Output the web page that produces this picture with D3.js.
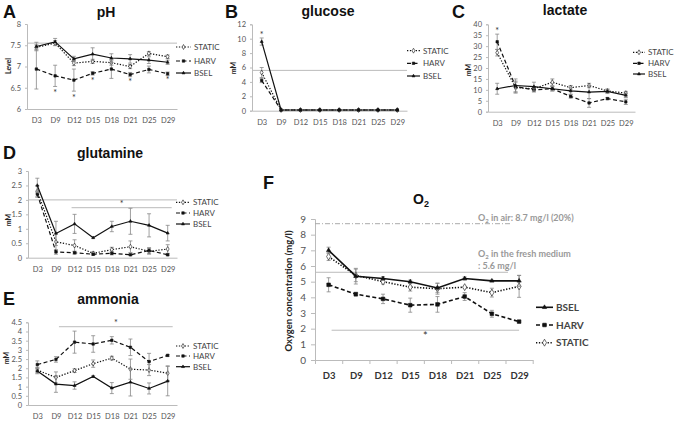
<!DOCTYPE html>
<html><head><meta charset="utf-8">
<script src="https://cdn.jsdelivr.net/npm/d3@7"></script>
<style>body{margin:0;background:#fff}</style>
</head><body>
<svg id="c" width="676" height="422"></svg>
<script>
const days = ["D3","D9","D12","D15","D18","D21","D25","D29"];
const seriesNames = ["STATIC","HARV","BSEL"];

// A: pH
const phStatic = [7.45,7.55,7.08,7.12,7.09,7.0,7.31,7.23];
const phStaticErr = [0.06,0.06,0.06,0.05,0.06,0.05,0.04,0.04];
const phHarv = [6.94,6.78,6.68,6.84,6.94,6.81,6.93,6.83];
const phHarvErr = [0.47,0.25,0.26,0.04,0.22,0.05,0.08,0.04];
const phBsel = [7.47,7.58,7.18,7.29,7.2,7.18,7.15,7.1];
const phBselErr = [0.1,0.08,0.06,0.15,0.1,0.1,0.08,0.05];
const phTicks = [6,6.5,7,7.5,8];
const phRef = 7.55;
const phStars = [["D9",6.41],["D12",6.28],["D15",6.69],["D21",6.67],["D29",6.71]];

// B: glucose
const glcStatic = [5.3,0.1,0.1,0.1,0.1,0.1,0.1,0.1];
const glcStaticErr = [0.7,0.05,0,0,0,0,0,0];
const glcHarv = [4.2,0.1,0.1,0.1,0.1,0.1,0.1,0.1];
const glcHarvErr = [0.3,0.05,0,0,0,0,0,0];
const glcBsel = [9.6,0.1,0.1,0.1,0.1,0.1,0.1,0.1];
const glcBselErr = [0.5,0.05,0,0,0,0,0,0];
const glcTicks = [0,2,4,6,8,10,12];
const glcRef = 5.6;
const glcStars = [["D3",10.7]];

// C: lactate
const lacStatic = [27,11,10.5,13.5,11,12,9.5,8.5];
const lacStaticErr = [1.5,2.5,1,1.5,1,1,0.8,0.8];
const lacHarv = [32,11.5,10,10.5,7,4,6,4.5];
const lacHarvErr = [3.5,2.5,1,1,0.8,2,0.5,1.2];
const lacBsel = [10.5,12,11.5,10.5,9.5,9,9.3,7.5];
const lacBselErr = [2.5,3,2,1,1.5,3,1,1];
const lacTicks = [0,5,10,15,20,25,30,35,40];
const lacStars = [["D3",37.3]];

// D: glutamine
const glnStatic = [2.3,0.55,0.42,0.15,0.28,0.38,0.22,0.3];
const glnStaticErr = [0.2,0.3,0.2,0.05,0.08,0.2,0.1,0.15];
const glnHarv = [2.2,0.2,0.17,0.12,0.15,0.1,0.25,0.1];
const glnHarvErr = [0.1,0.08,0.05,0.04,0.05,0.03,0.1,0.03];
const glnBsel = [2.5,0.84,1.17,0.69,1.08,1.26,1.12,0.85];
const glnBselErr = [0.25,0.42,0.33,0.02,0.18,0.45,0.4,0.27];
const glnTicks = [0,0.5,1,1.5,2,2.5,3];
const glnRef = 2.0;
const glnSig = ["D12","D29",1.73];

// E: ammonia
const nhStatic = [1.9,1.5,1.87,2.25,2.55,1.95,1.9,1.73];
const nhStaticErr = [0.15,0.3,0.1,0.2,0.1,0.55,0.3,0.4];
const nhHarv = [2.2,2.48,3.42,3.32,3.52,3.14,2.36,2.7];
const nhHarvErr = [0.2,0.15,0.6,0.45,0.2,0.45,0.45,0.05];
const nhBsel = [1.85,1.14,1.06,1.55,0.92,1.24,0.9,1.3];
const nhBselErr = [0.15,0.45,0.2,0.05,0.3,0.75,0.3,0.8];
const nhTicks = [0,0.5,1,1.5,2,2.5,3,3.5,4,4.5];
const nhSig = ["D9","D29",4.26];

// F: O2
const o2Bsel = [7.0,5.35,5.2,5.0,4.6,5.2,5.05,5.05];
const o2BselErr = [0.2,0.5,0.12,0.1,0.3,0.1,0.05,0.35];
const o2Harv = [4.8,4.2,3.9,3.5,3.55,4.05,2.95,2.45];
const o2HarvErr = [0.45,0.12,0.3,0.45,0.5,0.25,0.22,0.05];
const o2Static = [6.6,5.4,5.0,4.65,4.55,4.65,4.3,4.7];
const o2StaticErr = [0.25,0.4,0.15,0.25,0.35,0.05,0.28,0.7];
const o2Ticks = [0,1,2,3,4,5,6,7,8,9];
const o2Air = 8.7;
const o2Medium = 5.6;
const o2Sig = ["D3","D29",1.9];

const svg = d3.select("#c");
const TXT = "'Lato','Open Sans',sans-serif";
const HEAD = "'Liberation Sans',Arial,sans-serif";

const styles = {
  STATIC:{dash:"1.3,1.6", sym:d3.symbolDiamond, size:7, bsize:14, fill:"#fff"},
  HARV:{dash:"4,2.5", sym:d3.symbolSquare, size:6, bsize:13, fill:"#111"},
  BSEL:{dash:null, sym:d3.symbolTriangle, size:4, bsize:8, fill:"#111"}
};

function panel(o){
  const g = svg.append("g");
  const x = d3.scalePoint().domain(days).range([o.x0,o.x1]).padding(0.5);
  const y = d3.scaleLinear().domain([o.ticks[0], o.ticks[o.ticks.length-1]]).range([o.y0,o.y1]);
  const ya = g.append("g").attr("transform",`translate(${o.x0},0)`)
    .call(d3.axisLeft(y).tickValues(o.ticks).tickSize(o.big?4:2).tickPadding(o.big?5:4).tickFormat(d=>String(d)));
  ya.select(".domain").attr("stroke","#bbb");
  ya.selectAll(".tick line").attr("stroke","#bbb");
  ya.selectAll("text").attr("fill","#555").style("fill","#555").style("font-family",TXT).style("font-size",o.big?"10px":"7.5px");
  const xa = g.append("g").attr("transform",`translate(0,${o.y0})`)
    .call(d3.axisBottom(x).tickSize(0).tickPadding(o.big?12:9));
  xa.select(".domain").attr("stroke","#bbb");
  xa.selectAll("text").attr("fill",o.big?"#333":"#555").style("fill",o.big?"#333":"#555").style("font-family",TXT)
    .style("font-size",o.big?"9.5px":"7.5px").style("font-weight",o.big?"bold":"normal");
  if(o.big){
    const xl = d3.scaleLinear().domain([0,days.length]).range([o.x0,o.x1]);
    const xb = g.append("g").attr("transform",`translate(0,${o.y0})`)
      .call(d3.axisBottom(xl).tickValues(d3.range(days.length+1)).tickSize(4).tickFormat(""));
    xb.select(".domain").remove();
    xb.selectAll(".tick line").attr("stroke","#bbb");
  }
  (o.refs||[]).forEach(r=>{
    g.append("line").attr("x1",o.x0).attr("x2",r.x2||o.x1).attr("y1",y(r.v)).attr("y2",y(r.v))
      .attr("stroke",r.color||"#bbb").attr("stroke-width",1).attr("stroke-dasharray",r.dash||null);
  });
  if(o.sig){
    const [a,b,v] = o.sig;
    const xA = x(a)+o.sigOff[0], xB = x(b)+o.sigOff[1];
    g.append("line").attr("x1",xA).attr("x2",xB).attr("y1",y(v)).attr("y2",y(v)).attr("stroke","#bbb").attr("stroke-width",1);
    g.append("text").attr("x",(xA+xB)/2).attr("y",y(v)+o.sigDy).attr("text-anchor","middle")
      .style("font-family",TXT).style("font-size",o.big?"11px":"9px").attr("fill","#333").text("*");
  }
  o.series.forEach(s=>{
    const st = styles[s.name];
    const pts = days.map((d,i)=>({d,v:s.v[i],e:s.e[i]}));
    const eg = g.append("g");
    pts.filter(p=>p.e>0.02).forEach(p=>{
      const cx = x(p.d), t = y(p.v+p.e), b = y(p.v-p.e);
      eg.append("line").attr("x1",cx).attr("x2",cx).attr("y1",t).attr("y2",b).attr("stroke","#888").attr("stroke-width",0.8);
      [t,b].forEach(yy=>eg.append("line").attr("x1",cx-2).attr("x2",cx+2).attr("y1",yy).attr("y2",yy).attr("stroke","#888").attr("stroke-width",0.8));
    });
    g.append("path").datum(pts)
      .attr("d",d3.line().x(p=>x(p.d)).y(p=>y(p.v)))
      .attr("fill","none").attr("stroke","#111").attr("stroke-width",o.big?1.6:1.2)
      .attr("stroke-dasharray",st.dash);
    g.selectAll(null).data(pts).join("path")
      .attr("transform",p=>`translate(${x(p.d)},${y(p.v)})`)
      .attr("d",d3.symbol().type(st.sym).size(o.big?st.bsize:st.size))
      .attr("fill",st.fill).attr("stroke","#111").attr("stroke-width",0.6);
  });
  (o.stars||[]).forEach(([d,v])=>{
    g.append("text").attr("x",x(d)).attr("y",y(v)+4).attr("text-anchor","middle")
      .style("font-family",TXT).style("font-size","9px").attr("fill","#333").text("*");
  });
  if(o.title){
    g.append("text").attr("x",o.tx).attr("y",o.ty).attr("text-anchor","middle")
      .style("font-family",HEAD).style("font-weight","bold").style("font-size","14px").attr("fill","#111").text(o.title);
  }
  g.append("text").attr("x",o.lx).attr("y",o.ly).style("font-family",HEAD).style("font-weight","bold")
    .style("font-size","18px").attr("fill","#111").text(o.letter);
  g.append("text").attr("transform",`translate(${o.ylx},${o.yly}) rotate(-90)`).attr("text-anchor","middle")
    .style("font-family",TXT).style("font-weight","bold").style("font-size",o.big?"9.5px":"7px").attr("fill","#222").text(o.ylabel);
  o.legend.forEach((name,i)=>{
    const st = styles[name];
    const yy = o.legY[i];
    g.append("line").attr("x1",o.legX).attr("x2",o.legX+o.legW).attr("y1",yy).attr("y2",yy)
      .attr("stroke","#111").attr("stroke-width",o.big?1.6:1.2).attr("stroke-dasharray",st.dash);
    g.append("path").attr("transform",`translate(${o.legX+o.legW/2},${yy})`)
      .attr("d",d3.symbol().type(st.sym).size(o.big?st.bsize:st.size)).attr("fill",st.fill).attr("stroke","#111").attr("stroke-width",0.6);
    g.append("text").attr("x",o.legX+o.legW+3).attr("y",yy).attr("dy","0.35em")
      .style("font-family",TXT).style("font-size",o.big?"10px":"8px").style("font-weight",o.big?"bold":"normal")
      .attr("fill","#444").text(name);
  });
  return {g,x,y};
}

panel({x0:27,x1:177,y0:109,y1:24,ticks:phTicks,refs:[{v:phRef}],
  series:[{name:"STATIC",v:phStatic,e:phStaticErr},{name:"HARV",v:phHarv,e:phHarvErr},{name:"BSEL",v:phBsel,e:phBselErr}],
  stars:phStars,title:"pH",tx:106,ty:17,letter:"A",lx:3,ly:18,ylabel:"Level",ylx:11,yly:66,
  legend:seriesNames,legX:176,legW:15,legY:[47,61,73]});

panel({x0:252,x1:407,y0:110.7,y1:24.3,ticks:glcTicks,refs:[{v:glcRef}],
  series:[{name:"STATIC",v:glcStatic,e:glcStaticErr},{name:"HARV",v:glcHarv,e:glcHarvErr},{name:"BSEL",v:glcBsel,e:glcBselErr}],
  stars:glcStars,title:"glucose",tx:328,ty:16,letter:"B",lx:225,ly:18,ylabel:"mM",ylx:236,yly:68,
  legend:seriesNames,legX:407,legW:13,legY:[50.7,63.3,76]});

panel({x0:488,x1:635,y0:111.7,y1:24.3,ticks:lacTicks,
  series:[{name:"STATIC",v:lacStatic,e:lacStaticErr},{name:"HARV",v:lacHarv,e:lacHarvErr},{name:"BSEL",v:lacBsel,e:lacBselErr}],
  stars:lacStars,title:"lactate",tx:565,ty:15,letter:"C",lx:452,ly:18,ylabel:"mM",ylx:471,yly:70,
  legend:seriesNames,legX:633,legW:12,legY:[52.3,63.3,74]});

panel({x0:28,x1:177,y0:257.7,y1:171,ticks:glnTicks,refs:[{v:glnRef}],
  series:[{name:"STATIC",v:glnStatic,e:glnStaticErr},{name:"HARV",v:glnHarv,e:glnHarvErr},{name:"BSEL",v:glnBsel,e:glnBselErr}],
  sig:glnSig,sigOff:[-3,4],sigDy:-1,title:"glutamine",tx:110,ty:158,letter:"D",lx:3,ly:159,ylabel:"mM",ylx:11,yly:220,
  legend:seriesNames,legX:176,legW:14,legY:[202.3,213,224]});

panel({x0:28,x1:177,y0:405,y1:322.3,ticks:nhTicks,
  series:[{name:"STATIC",v:nhStatic,e:nhStaticErr},{name:"HARV",v:nhHarv,e:nhHarvErr},{name:"BSEL",v:nhBsel,e:nhBselErr}],
  sig:nhSig,sigOff:[3,5],sigDy:-1,title:"ammonia",tx:108,ty:304,letter:"E",lx:3,ly:305,ylabel:"mM",ylx:9,yly:358,
  legend:seriesNames,legX:176,legW:14,legY:[346,356,366.7]});

const F = panel({big:true,x0:315,x1:532.7,y0:360,y1:219,ticks:o2Ticks,
  refs:[{v:o2Air,x2:510,dash:"5,2,1,2",color:"#aaa"},{v:o2Medium,x2:508}],
  series:[{name:"STATIC",v:o2Static,e:o2StaticErr},{name:"HARV",v:o2Harv,e:o2HarvErr},{name:"BSEL",v:o2Bsel,e:o2BselErr}],
  sig:o2Sig,sigOff:[3,0],sigDy:10,title:"",letter:"F",lx:263,ly:189,
  ylabel:"Oxygen concentration (mg/l)",ylx:292,yly:291,
  legend:["BSEL","HARV","STATIC"],legX:536,legW:17,legY:[307.3,325,342.7]});

const t = F.g.append("text").attr("x",421).attr("y",204).attr("text-anchor","middle")
  .style("font-family",HEAD).style("font-weight","bold").style("font-size","14px").attr("fill","#111");
t.append("tspan").text("O");
t.append("tspan").attr("dy",3).style("font-size","9px").text("2");

function annot(rest, yy){
  const a = F.g.append("text").attr("x",478).attr("y",yy)
    .style("font-family",TXT).style("font-weight","bold").style("font-size","9px").attr("fill","#999");
  a.append("tspan").text("O");
  a.append("tspan").attr("dy",2).style("font-size","6px").text("2");
  a.append("tspan").attr("dy",-2).text(rest);
}
annot(" in air: " + o2Air + " mg/l (20%)", 220.5);
annot(" in the fresh medium", 257);
F.g.append("text").attr("x",478).attr("y",269).style("font-family",TXT).style("font-weight","bold")
  .style("font-size","9px").attr("fill","#999").text(": " + o2Medium + " mg/l");
</script>
</body></html>
